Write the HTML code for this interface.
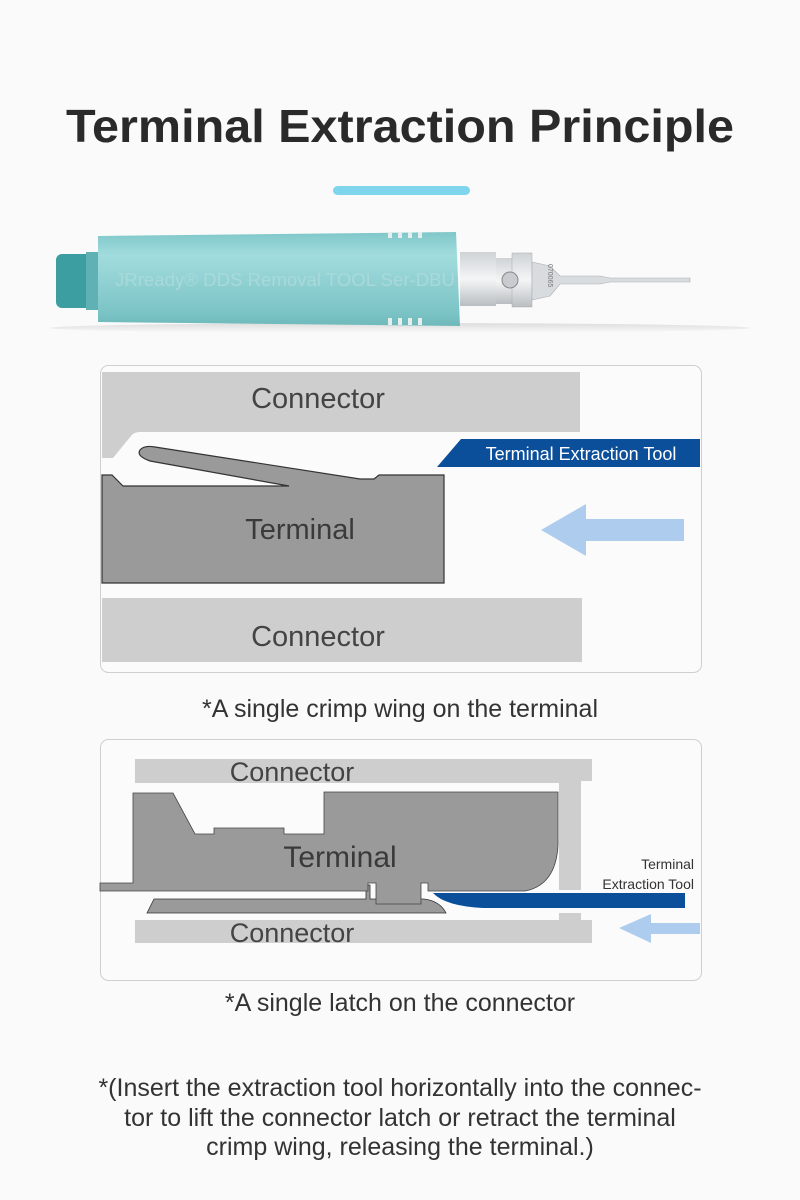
<!DOCTYPE html>
<html><head><meta charset="utf-8"><style>
html,body{margin:0;padding:0;background:#fafafa;}
svg{display:block;}
text{font-family:"Liberation Sans",Arial,sans-serif;}
</style></head><body>
<svg width="800" height="1200" viewBox="0 0 800 1200" xmlns="http://www.w3.org/2000/svg">
<rect width="800" height="1200" fill="#fafafa"/>
<text x="400" y="142" text-anchor="middle" font-size="46" font-weight="bold" fill="#2a2a2a" textLength="668" lengthAdjust="spacingAndGlyphs">Terminal Extraction Principle</text>
<rect x="333" y="186" width="137" height="9" rx="4.5" fill="#7fd6ec"/>

<defs>
<linearGradient id="body" x1="0" y1="0" x2="0" y2="1">
<stop offset="0" stop-color="#7fc7c9"/><stop offset="0.25" stop-color="#a2dcdd"/><stop offset="0.55" stop-color="#8fd0d2"/><stop offset="0.85" stop-color="#7cc4c6"/><stop offset="1" stop-color="#6fb9bb"/>
</linearGradient>
<linearGradient id="metal" x1="0" y1="0" x2="0" y2="1">
<stop offset="0" stop-color="#cfd3d6"/><stop offset="0.5" stop-color="#f4f5f6"/><stop offset="1" stop-color="#b9bec2"/>
</linearGradient>
<linearGradient id="shadow" x1="0" y1="0" x2="0" y2="1">
<stop offset="0" stop-color="#ddd"/><stop offset="1" stop-color="#fafafa"/>
</linearGradient>
</defs>
<ellipse cx="400" cy="328" rx="350" ry="5" fill="url(#shadow)"/>
<rect x="56" y="254" width="40" height="54" rx="6" fill="#3d9ea2"/>
<rect x="86" y="252" width="12" height="58" fill="#5fb1b4"/>
<path d="M98 236 L456 232 L460 326 L98 322 Z" fill="url(#body)"/>
<g fill="#e7eeee"><rect x="388" y="232" width="4" height="6"/><rect x="398" y="232" width="4" height="6"/><rect x="408" y="232" width="4" height="6"/><rect x="418" y="232" width="4" height="6"/><rect x="388" y="318" width="4" height="7"/><rect x="398" y="318" width="4" height="7"/><rect x="408" y="318" width="4" height="7"/><rect x="418" y="318" width="4" height="7"/></g>
<text x="115" y="286" font-size="18" fill="#a9d9da" textLength="340" lengthAdjust="spacingAndGlyphs">JRready® DDS Removal TOOL Ser-DBU</text>
<rect x="460" y="252" width="36" height="54" fill="url(#metal)"/>
<rect x="496" y="258" width="36" height="46" fill="url(#metal)"/>
<rect x="512" y="253" width="20" height="54" fill="url(#metal)" stroke="#aaa" stroke-width="0.5"/>
<circle cx="510" cy="280" r="8" fill="#c8ccd0" stroke="#888"/>
<path d="M532 262 L550 266 L560 276 L600 276 L610 278 L690 278 L690 282 L610 282 L600 284 L560 284 L550 296 L532 300 Z" fill="#d9dcdf" stroke="#a9adb1" stroke-width="0.6"/>
<text x="548" y="264" font-size="7" fill="#777" transform="rotate(90 548 264)">070065</text>

<!-- panel 1 -->
<rect x="100.5" y="365.5" width="601" height="307" rx="8" fill="#fbfbfb" stroke="#cfcfcf"/>
<path d="M102 372 L580 372 L580 432 L140 432 Q134 432 131 436 L113 458 L102 458 Z" fill="#cdcecd"/>
<text x="318" y="408" text-anchor="middle" font-size="29" fill="#444">Connector</text>
<path d="M102 475 L112 475 L123 486 L289 486 L150 461 Q136 456 140 450 Q144 445 155 447 L360 479 L374 479 L379 475 L444 475 L444 583 L102 583 Z" fill="#9a9a9a" stroke="#333" stroke-width="1.2"/>
<text x="300" y="539" text-anchor="middle" font-size="29" fill="#3a3a3a">Terminal</text>
<path d="M437 467 L461 439 L700 439 L700 467 Z" fill="#0b4f9b"/>
<text x="581" y="460" text-anchor="middle" font-size="18" fill="#fff">Terminal Extraction Tool</text>
<path d="M541 530 L586 504 L586 519 L684 519 L684 541 L586 541 L586 556 Z" fill="#aecdee"/>
<rect x="102" y="598" width="480" height="64" fill="#cdcecd"/>
<text x="318" y="646" text-anchor="middle" font-size="29" fill="#444">Connector</text>
<text x="400" y="717" text-anchor="middle" font-size="25" fill="#333">*A single crimp wing on the terminal</text>

<!-- panel 2 -->
<rect x="100.5" y="739.5" width="601" height="241" rx="8" fill="#fbfbfb" stroke="#cfcfcf"/>
<path d="M135 759 L592 759 L592 781 L581 781 L581 890 L559 890 L559 783 L135 783 Z" fill="#cdcecd"/>
<path d="M135 920 L559 920 L559 913 L581 913 L581 920 L592 920 L592 943 L135 943 Z" fill="#cdcecd"/>
<text x="292" y="781" text-anchor="middle" font-size="27" fill="#444">Connector</text>
<text x="292" y="942" text-anchor="middle" font-size="27" fill="#444">Connector</text>
<path d="M147 913 L154 899 L366 899 L366 885 L370 885 L370 899 L424 899 Q440 901 446 913 Z" fill="#9a9a9a" stroke="#333" stroke-width="0.8"/>
<path d="M100 883 L133 883 L133 793 L173 793 L195 834 L214 834 L214 828 L284 828 L284 834 L324 834 L324 792 L558 792 L558 845 Q556 885 525 891 L428 891 L428 883 L421 883 L421 904 L376 904 L376 883 L368 883 L368 891 L100 891 Z" fill="#9a9a9a" stroke="#444" stroke-width="0.8"/>
<text x="340" y="867" text-anchor="middle" font-size="30" fill="#3a3a3a">Terminal</text>
<path d="M433 893 Q445 906 483 908 L685 908 L685 893 Z" fill="#0b4f9b"/>
<text x="694" y="869" text-anchor="end" font-size="14" fill="#333">Terminal</text>
<text x="694" y="889" text-anchor="end" font-size="14" fill="#333">Extraction Tool</text>
<path d="M619 928 L651 914 L651 923 L700 923 L700 934 L651 934 L651 943 Z" fill="#aecdee"/>
<text x="400" y="1011" text-anchor="middle" font-size="25" fill="#333">*A single latch on the connector</text>

<text x="400" y="1096" text-anchor="middle" font-size="25" fill="#333">*(Insert the extraction tool horizontally into the connec-</text>
<text x="400" y="1126" text-anchor="middle" font-size="25" fill="#333">tor to lift the connector latch or retract the terminal</text>
<text x="400" y="1155" text-anchor="middle" font-size="25" fill="#333">crimp wing, releasing the terminal.)</text>
</svg>
</body></html>
